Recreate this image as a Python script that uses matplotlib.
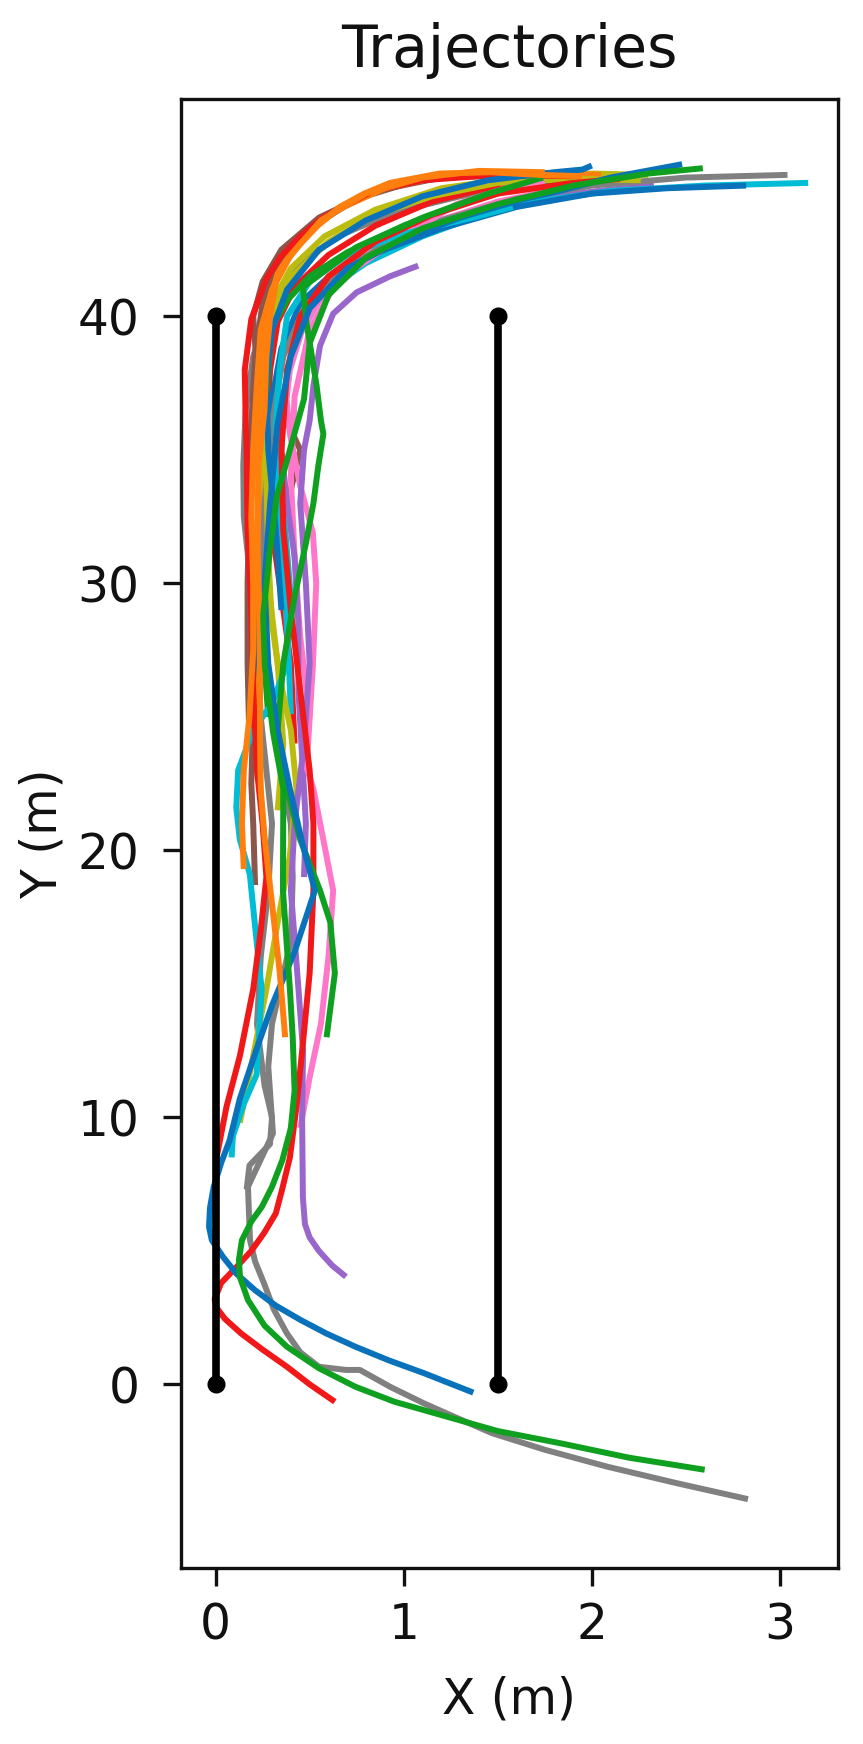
import matplotlib
matplotlib.use("Agg")
import matplotlib.pyplot as plt

# ---------------- data ----------------
# walls (x positions, from y=0 to y=40)
wall_x = [0.0, 1.5]
wall_y = [0.0, 40.0]

x_ticks = [0, 1, 2, 3]
y_ticks = [0, 10, 20, 30, 40]

blue_a_x = [1.37, 1.24, 1.107, 0.92, 0.743, 0.59, 0.452, 0.32, 0.209, 0.11, 0.039, -0.02, -0.035, -0.03, -0.01, 0.03, 0.075, 0.129, 0.22, 0.30, 0.42, 0.528, 0.46, 0.395, 0.33, 0.28, 0.26, 0.29, 0.33, 0.40, 0.50, 0.70, 1.00, 1.30, 1.64, 1.83, 2.10, 2.48]
blue_a_y = [-0.31, 0.05, 0.42, 0.9, 1.41, 1.9, 2.41, 2.95, 3.53, 4.15, 4.78, 5.4, 5.9, 6.6, 7.4, 8.3, 9.15, 10.7, 12.6, 14.2, 16.2, 18.5, 20.3, 22.3, 24.5, 27.0, 30.0, 33.0, 36.0, 38.5, 40.3, 41.8, 42.9, 43.7, 44.4, 44.7, 45.2, 45.7]

orange_a_x = [0.37, 0.34, 0.30, 0.26, 0.24, 0.236, 0.236, 0.23, 0.22, 0.23, 0.26, 0.27, 0.29, 0.324, 0.38, 0.448, 0.55, 0.66, 0.79, 0.927, 1.19, 1.46, 1.72, 1.95]
orange_a_y = [13.0, 15.5, 18.0, 20.5, 22.3, 24.4, 26.9, 29.5, 32.0, 34.5, 36.5, 38.5, 40.0, 41.4, 42.1, 42.7, 43.45, 44.1, 44.6, 45.0, 45.35, 45.4, 45.3, 45.25]

green_a_x = [2.60, 2.20, 1.835, 1.50, 1.229, 0.95, 0.743, 0.55, 0.379, 0.26, 0.172, 0.13, 0.124, 0.14, 0.19, 0.246, 0.30, 0.355, 0.40, 0.42, 0.41, 0.395, 0.358, 0.36, 0.306, 0.262, 0.253, 0.29, 0.324, 0.395, 0.47, 0.50, 0.60, 0.80, 1.10, 1.50, 1.90, 2.30, 2.59]
green_a_y = [-3.2, -2.75, -2.21, -1.75, -1.21, -0.65, -0.09, 0.6, 1.41, 2.2, 3.16, 4.0, 4.66, 5.4, 6.1, 6.65, 7.4, 8.4, 9.6, 11.0, 13.0, 14.8, 18.5, 22.3, 24.4, 26.9, 28.8, 31.3, 33.2, 35.0, 36.9, 39.0, 40.8, 42.2, 43.3, 44.2, 44.9, 45.35, 45.55]

red_a_x = [0.634, 0.50, 0.379, 0.25, 0.135, 0.05, 0.002, -0.005, 0.03, 0.112, 0.19, 0.257, 0.32, 0.353, 0.395, 0.43, 0.466, 0.50, 0.52, 0.52, 0.50, 0.45, 0.40, 0.36, 0.35, 0.38, 0.45, 0.60, 0.85, 1.15, 1.50, 1.90, 2.15]
red_a_y = [-0.65, 0.0, 0.66, 1.3, 1.91, 2.45, 2.9, 3.2, 3.8, 4.4, 5.0, 5.66, 6.4, 7.28, 8.5, 10.4, 12.9, 15.4, 18.5, 21.0, 23.0, 26.0, 29.0, 32.0, 35.0, 38.0, 40.0, 41.5, 42.8, 43.8, 44.6, 45.0, 45.15]

purple_a_x = [0.693, 0.62, 0.549, 0.50, 0.475, 0.464, 0.46, 0.465, 0.43, 0.40, 0.42, 0.47, 0.50, 0.48, 0.45, 0.47, 0.50, 0.52, 0.555, 0.625, 0.75, 0.927, 1.077]
purple_a_y = [4.03, 4.45, 5.0, 5.5, 6.0, 7.0, 10.0, 12.5, 15.8, 18.5, 21.0, 24.0, 27.0, 30.0, 33.0, 35.0, 36.1, 37.4, 38.9, 40.1, 40.9, 41.5, 41.9]

brown_a_x = [0.21, 0.20, 0.19, 0.20, 0.19, 0.22, 0.30, 0.40, 0.45, 0.35, 0.22, 0.20, 0.25, 0.35, 0.55, 0.85, 1.20, 1.60]
brown_a_y = [18.7, 21.0, 22.5, 25.0, 27.5, 29.5, 31.5, 33.5, 35.0, 36.5, 38.0, 40.0, 41.3, 42.5, 43.7, 44.7, 45.2, 45.3]

pink_a_x = [0.45, 0.50, 0.56, 0.60, 0.625, 0.57, 0.52, 0.484, 0.517, 0.535, 0.517, 0.448, 0.395, 0.377, 0.395, 0.465, 0.55, 0.66, 0.93, 1.28, 1.54, 1.75]
pink_a_y = [9.6, 11.5, 13.5, 16.0, 18.5, 20.5, 22.3, 23.1, 26.9, 30.0, 31.9, 33.7, 35.6, 36.9, 38.0, 39.6, 40.6, 41.4, 42.7, 44.2, 44.8, 45.0]

gray_a_x = [2.83, 2.45, 2.08, 1.75, 1.47, 1.28, 1.107, 0.93, 0.767, 0.693, 0.549, 0.45, 0.379, 0.31, 0.257, 0.21, 0.183, 0.172, 0.305, 0.28, 0.30, 0.40, 0.41, 0.40, 0.35, 0.30, 0.27, 0.25, 0.26, 0.30, 0.36, 0.47, 0.65, 0.90, 1.20, 1.60, 2.00, 2.50, 3.04]
gray_a_y = [-4.3, -3.7, -3.08, -2.45, -1.83, -1.25, -0.71, -0.1, 0.54, 0.54, 0.66, 1.2, 1.91, 2.8, 3.79, 4.6, 5.4, 7.4, 9.4, 11.9, 13.5, 16.6, 19.0, 21.0, 23.0, 25.0, 27.5, 30.0, 33.0, 36.0, 38.5, 40.3, 41.6, 42.7, 43.6, 44.4, 44.9, 45.2, 45.3]

olive_a_x = [0.129, 0.20, 0.27, 0.33, 0.395, 0.43, 0.40, 0.34, 0.30, 0.28, 0.27, 0.26, 0.27, 0.31, 0.42, 0.60, 0.85, 1.15, 1.50, 1.90, 2.26]
olive_a_y = [9.8, 12.3, 14.8, 17.3, 19.8, 22.3, 24.5, 26.5, 28.5, 31.0, 34.0, 36.5, 38.5, 40.3, 41.6, 42.8, 43.8, 44.5, 45.0, 45.15, 45.1]

cyan_a_x = [0.085, 0.092, 0.15, 0.218, 0.245, 0.218, 0.182, 0.129, 0.11, 0.12, 0.20, 0.30, 0.38, 0.40, 0.37, 0.33, 0.32, 0.34, 0.38, 0.50, 0.70, 1.00, 1.37, 1.58]
cyan_a_y = [8.5, 9.3, 10.5, 11.6, 14.8, 16.6, 19.1, 20.4, 21.6, 23.0, 24.5, 25.5, 27.0, 29.5, 32.0, 34.0, 36.0, 38.0, 40.0, 41.3, 42.3, 43.1, 43.7, 44.1]

blue_b_x = [0.27, 0.24, 0.22, 0.23, 0.26, 0.29, 0.30, 0.35, 0.45, 0.62, 0.90, 1.20, 1.60, 2.00, 2.40, 2.82]
blue_b_y = [19.5, 22.0, 25.0, 28.0, 31.0, 34.0, 36.9, 38.8, 40.5, 41.6, 42.5, 43.3, 44.1, 44.6, 44.8, 44.9]

orange_b_x = [0.15, 0.14, 0.15, 0.18, 0.20, 0.20, 0.19, 0.20, 0.22, 0.24, 0.30, 0.40, 0.56, 0.80, 1.10, 1.40, 1.75]
orange_b_y = [19.3, 21.0, 23.0, 25.0, 27.5, 30.0, 32.5, 35.0, 37.5, 39.5, 41.0, 42.3, 43.6, 44.6, 45.2, 45.45, 45.4]

green_b_x = [0.59, 0.634, 0.61, 0.555, 0.45, 0.38, 0.33, 0.36, 0.42, 0.48, 0.52, 0.546, 0.573, 0.56, 0.537, 0.48, 0.465, 0.75, 1.10, 1.45, 1.74]
green_b_y = [13.0, 15.4, 17.3, 18.5, 20.4, 22.3, 24.5, 27.0, 29.5, 31.5, 33.0, 34.4, 35.6, 36.1, 37.4, 39.9, 41.1, 42.6, 43.7, 44.6, 45.2]

red_b_x = [0.0, 0.058, 0.129, 0.20, 0.24, 0.27, 0.25, 0.22, 0.20, 0.19, 0.17, 0.165, 0.16, 0.155, 0.19, 0.27, 0.342, 0.45, 0.57, 0.837, 1.10, 1.50, 1.90]
red_b_y = [8.3, 10.4, 12.3, 14.8, 17.0, 19.0, 21.0, 23.0, 26.0, 29.0, 32.0, 35.0, 36.1, 38.0, 39.9, 41.4, 42.2, 43.0, 43.7, 44.7, 45.1, 45.3, 45.25]

purple_b_x = [0.47, 0.48, 0.46, 0.44, 0.44, 0.42, 0.38, 0.35, 0.36, 0.42, 0.55, 0.75, 1.05, 1.40, 1.80, 2.10, 2.25, 2.33]
purple_b_y = [19.0, 21.0, 23.5, 26.0, 28.5, 31.0, 33.0, 35.0, 37.0, 39.0, 40.6, 41.9, 43.0, 43.9, 44.5, 44.75, 44.85, 44.9]

brown_b_x = [0.18, 0.17, 0.17, 0.18, 0.19, 0.21, 0.25, 0.33, 0.50, 0.75, 1.05, 1.40, 1.70]
brown_b_y = [24.0, 27.0, 30.0, 33.0, 36.0, 38.5, 40.5, 42.0, 43.3, 44.4, 45.05, 45.35, 45.35]

pink_b_x = [0.50, 0.45, 0.42, 0.40, 0.42, 0.50, 0.62, 0.85, 1.15, 1.50, 1.85, 2.00]
pink_b_y = [25.0, 28.0, 31.0, 34.0, 37.0, 39.5, 41.0, 42.4, 43.5, 44.3, 44.8, 44.95]

gray_b_x = [0.165, 0.18, 0.289, 0.30, 0.26, 0.22, 0.24, 0.28, 0.30, 0.27, 0.24, 0.22, 0.18, 0.15, 0.147, 0.16, 0.20, 0.28, 0.42, 0.65, 0.95, 1.30, 1.70, 2.20]
gray_b_y = [7.3, 8.2, 9.0, 10.0, 11.2, 13.5, 16.0, 18.5, 21.0, 23.0, 25.0, 28.0, 30.5, 32.5, 34.4, 36.5, 38.5, 40.3, 41.8, 43.0, 43.9, 44.5, 44.9, 45.1]

olive_b_x = [0.33, 0.36, 0.33, 0.28, 0.25, 0.24, 0.26, 0.30, 0.40, 0.58, 0.85, 1.20, 1.60, 2.00, 2.30]
olive_b_y = [21.5, 24.0, 27.0, 30.0, 33.0, 36.0, 38.5, 40.5, 41.8, 43.0, 44.0, 44.8, 45.2, 45.35, 45.3]

cyan_b_x = [0.40, 0.39, 0.37, 0.34, 0.32, 0.31, 0.33, 0.40, 0.55, 0.80, 1.10, 1.37, 1.70, 2.10, 2.60, 3.15]
cyan_b_y = [25.1, 27.0, 29.5, 32.0, 34.0, 36.0, 38.0, 39.5, 40.8, 42.0, 43.0, 43.7, 44.3, 44.7, 44.9, 45.0]

blue_c_x = [0.35, 0.32, 0.28, 0.27, 0.30, 0.38, 0.55, 0.80, 1.10, 1.45, 1.80, 1.95, 2.00]
blue_c_y = [29.0, 32.0, 35.0, 37.5, 39.5, 41.0, 42.5, 43.6, 44.5, 45.1, 45.4, 45.5, 45.65]

orange_c_x = [0.22, 0.24, 0.25, 0.23, 0.22, 0.24, 0.27, 0.33, 0.45, 0.65, 0.90, 1.20, 1.50, 1.85, 2.05]
orange_c_y = [25.0, 27.5, 30.0, 33.0, 35.5, 38.0, 40.2, 41.6, 42.9, 44.0, 44.8, 45.25, 45.4, 45.35, 45.3]

green_c_x = [0.28, 0.25, 0.24, 0.25, 0.27, 0.30, 0.38, 0.50, 0.70, 1.00, 1.30, 1.60, 1.90, 2.05]
green_c_y = [25.0, 28.0, 31.0, 34.0, 37.0, 39.6, 40.6, 41.5, 42.4, 43.4, 44.2, 44.8, 45.1, 45.2]

red_c_x = [0.42, 0.40, 0.34, 0.28, 0.27, 0.29, 0.33, 0.42, 0.60, 0.85, 1.15, 1.50, 1.85, 2.10]
red_c_y = [24.0, 27.0, 30.0, 33.0, 35.5, 38.0, 39.8, 41.1, 42.3, 43.4, 44.3, 44.9, 45.15, 45.2]

# colours of the trajectory set (as they appear in the picture)
c_blue, c_orange, c_green, c_red, c_purple = "#0a72ba", "#ff7f0e", "#10a020", "#f01818", "#9966cc"
c_brown, c_pink, c_gray, c_olive, c_cyan = "#8c564b", "#ff77c8", "#808080", "#bcbc10", "#00bcd4"

trajectories = [
    (gray_b_x, gray_b_y, c_gray),
    (brown_a_x, brown_a_y, c_brown),
    (brown_b_x, brown_b_y, c_brown),
    (pink_b_x, pink_b_y, c_pink),
    (purple_b_x, purple_b_y, c_purple),
    (red_c_x, red_c_y, c_red),
    (green_c_x, green_c_y, c_green),
    (olive_b_x, olive_b_y, c_olive),
    (cyan_b_x, cyan_b_y, c_cyan),
    (blue_b_x, blue_b_y, c_blue),
    (orange_c_x, orange_c_y, c_orange),
    (gray_a_x, gray_a_y, c_gray),
    (olive_a_x, olive_a_y, c_olive),
    (pink_a_x, pink_a_y, c_pink),
    (purple_a_x, purple_a_y, c_purple),
    (cyan_a_x, cyan_a_y, c_cyan),
    (red_b_x, red_b_y, c_red),
    (blue_c_x, blue_c_y, c_blue),
    (orange_b_x, orange_b_y, c_orange),
    (red_a_x, red_a_y, c_red),
    (green_b_x, green_b_y, c_green),
    (blue_a_x, blue_a_y, c_blue),
    (orange_a_x, orange_a_y, c_orange),
    (green_a_x, green_a_y, c_green),
]

# ---------------- figure ----------------
plt.rcParams["font.family"] = ["DejaVu Sans"]
fig = plt.figure(figsize=(8.63, 17.44), dpi=100)
ax = fig.add_axes([0.2097, 0.1009, 0.7610, 0.8423])

for tx, ty, col in trajectories:
    ax.plot(tx, ty, color=col, lw=4.3, solid_joinstyle="round", solid_capstyle="butt")

for wx in wall_x:
    ax.plot([wx, wx], wall_y, color="black", lw=5.5, marker="o", markersize=12)

ax.set_xlim(-0.184, 3.307)
ax.set_ylim(-6.88, 48.14)
ax.set_xticks(x_ticks)
ax.set_yticks(y_ticks)

for sp in ax.spines.values():
    sp.set_linewidth(2.4)
    sp.set_color("#111111")

ax.tick_params(axis="both", direction="out", length=13, width=2.4, labelsize=35, colors="#111111")
ax.tick_params(axis="x", pad=11)
ax.tick_params(axis="y", pad=17)

ax.set_title("Trajectories", fontsize=42, pad=23, color="#111111")
ax.set_xlabel("X (m)", fontsize=35, color="#111111")
ax.set_ylabel("Y (m)", fontsize=35, color="#111111")
ax.xaxis.set_label_coords(0.5, -0.073)
ax.yaxis.set_label_coords(-0.175, 0.5)

fig.savefig("out.png", dpi=100)
